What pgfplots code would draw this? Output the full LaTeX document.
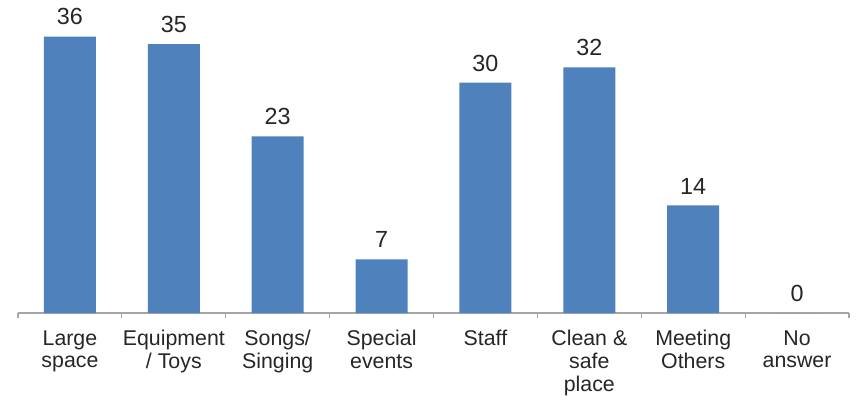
\documentclass[border=0pt]{standalone}
\usepackage{pgfplots}
\pgfplotsset{compat=1.18}
\usepackage{fontspec}
\setmainfont{Liberation Sans}
\definecolor{barblue}{HTML}{4F81BD}
\definecolor{txt}{HTML}{262626}
\definecolor{axgray}{HTML}{A6A6A6}
\begin{document}
\begin{tikzpicture}
\begin{axis}[
  name=main,
  scale only axis,
  width=623.25pt, height=234.75pt,
  xmin=-0.5, xmax=7.5,
  ymin=0, ymax=40.76,
  axis y line=none,
  axis x line=bottom,
  axis line style={-, draw=axgray, line width=0.8pt},
  xtick={0,...,7},
  xticklabels={Large\\space, Equipment\\/ Toys, Songs/\\Singing, Special\\events, Staff, Clean \&\\safe\\place, Meeting\\Others, No\\answer},
  major tick length=0pt,
  minor xtick={-0.5,0.5,...,7.5},
  minor tick length=4pt,
  tick align=outside,
  minor tick style={draw=axgray, line width=0.8pt},
  xticklabel style={align=center, text=txt, font=\fontsize{16}{17.2}\selectfont, yshift=-9.5pt},
  ybar,
  bar width=39pt,
  nodes near coords,
  every node near coord/.append style={text=txt, font=\fontsize{17.5}{19}\selectfont, yshift=5pt},
  /pgf/number format/assume math mode=true,
  clip=false,
]
\addplot[fill=barblue, draw=none] coordinates {(0,36) (1,35) (2,23) (3,7) (4,30) (5,32) (6,14) (7,0)};
\end{axis}
\path[use as bounding box] ([xshift=-13.5pt, yshift=-63pt]main.south west) rectangle ([xshift=5.25pt]main.north east);
\end{tikzpicture}
\end{document}
